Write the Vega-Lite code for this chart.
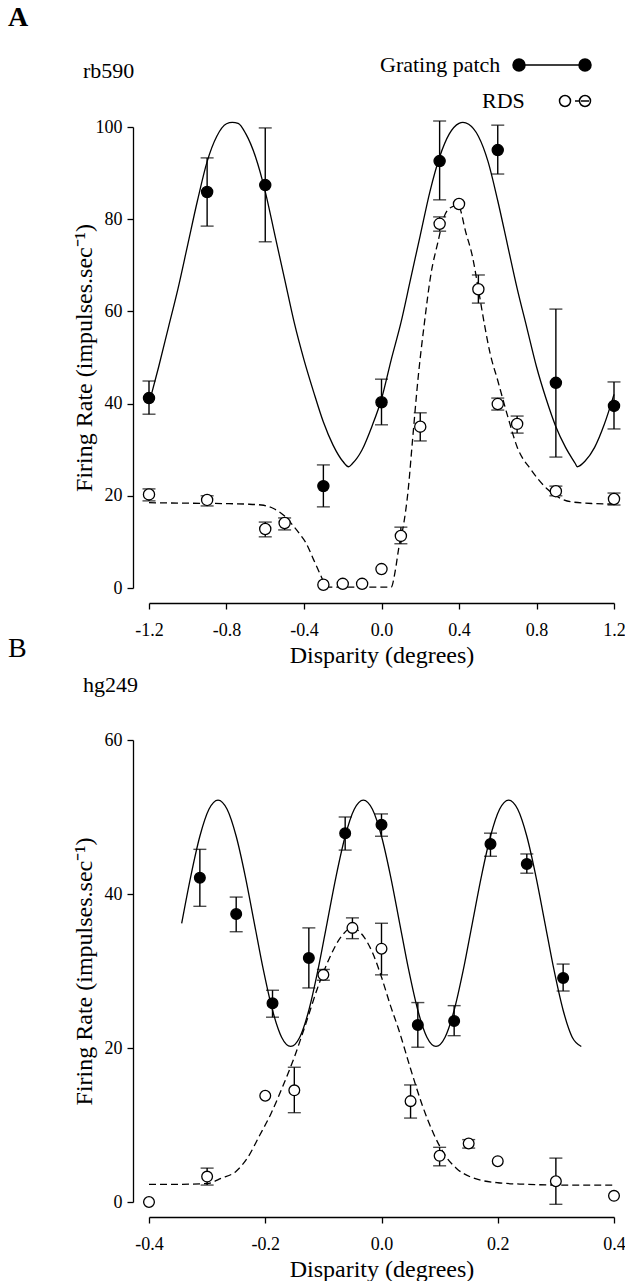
{
  "$schema": "https://vega.github.io/schema/vega-lite/v6.json",
  "background": "white",
  "padding": {"left": 8, "top": 4, "right": 0, "bottom": 0},
  "spacing": -32,
  "resolve": {"scale": {"fill": "independent", "stroke": "independent"}, "legend": {"fill": "independent", "stroke": "independent"}},
  "datasets": {
    "curvesA": [
      {"x": -1.2, "y": 40, "series": "Grating patch"},
      {"x": -1.15, "y": 48, "series": "Grating patch"},
      {"x": -1.1, "y": 56.5, "series": "Grating patch"},
      {"x": -1.05, "y": 65, "series": "Grating patch"},
      {"x": -1.0, "y": 74.5, "series": "Grating patch"},
      {"x": -0.95, "y": 84, "series": "Grating patch"},
      {"x": -0.9, "y": 92.5, "series": "Grating patch"},
      {"x": -0.85, "y": 98, "series": "Grating patch"},
      {"x": -0.8, "y": 100.7, "series": "Grating patch"},
      {"x": -0.77, "y": 101, "series": "Grating patch"},
      {"x": -0.74, "y": 100.8, "series": "Grating patch"},
      {"x": -0.7, "y": 98.5, "series": "Grating patch"},
      {"x": -0.65, "y": 93.5, "series": "Grating patch"},
      {"x": -0.6, "y": 86, "series": "Grating patch"},
      {"x": -0.55, "y": 76.5, "series": "Grating patch"},
      {"x": -0.5, "y": 67, "series": "Grating patch"},
      {"x": -0.45, "y": 57.5, "series": "Grating patch"},
      {"x": -0.4, "y": 49.5, "series": "Grating patch"},
      {"x": -0.35, "y": 42.5, "series": "Grating patch"},
      {"x": -0.3, "y": 36, "series": "Grating patch"},
      {"x": -0.25, "y": 31, "series": "Grating patch"},
      {"x": -0.2, "y": 27.5, "series": "Grating patch"},
      {"x": -0.17, "y": 26.3, "series": "Grating patch"},
      {"x": -0.15, "y": 27, "series": "Grating patch"},
      {"x": -0.1, "y": 30, "series": "Grating patch"},
      {"x": -0.05, "y": 35, "series": "Grating patch"},
      {"x": 0.0, "y": 41, "series": "Grating patch"},
      {"x": 0.05, "y": 49.5, "series": "Grating patch"},
      {"x": 0.1, "y": 57.5, "series": "Grating patch"},
      {"x": 0.15, "y": 67, "series": "Grating patch"},
      {"x": 0.2, "y": 76.5, "series": "Grating patch"},
      {"x": 0.25, "y": 86, "series": "Grating patch"},
      {"x": 0.3, "y": 93.5, "series": "Grating patch"},
      {"x": 0.35, "y": 98.5, "series": "Grating patch"},
      {"x": 0.4, "y": 100.8, "series": "Grating patch"},
      {"x": 0.42, "y": 101, "series": "Grating patch"},
      {"x": 0.45, "y": 100.6, "series": "Grating patch"},
      {"x": 0.5, "y": 98, "series": "Grating patch"},
      {"x": 0.55, "y": 92.5, "series": "Grating patch"},
      {"x": 0.6, "y": 84, "series": "Grating patch"},
      {"x": 0.65, "y": 74.5, "series": "Grating patch"},
      {"x": 0.7, "y": 65, "series": "Grating patch"},
      {"x": 0.75, "y": 56.5, "series": "Grating patch"},
      {"x": 0.8, "y": 48, "series": "Grating patch"},
      {"x": 0.85, "y": 41, "series": "Grating patch"},
      {"x": 0.9, "y": 35, "series": "Grating patch"},
      {"x": 0.95, "y": 30.5, "series": "Grating patch"},
      {"x": 1.0, "y": 27, "series": "Grating patch"},
      {"x": 1.01, "y": 26.3, "series": "Grating patch"},
      {"x": 1.05, "y": 27.5, "series": "Grating patch"},
      {"x": 1.1, "y": 30.5, "series": "Grating patch"},
      {"x": 1.15, "y": 35.5, "series": "Grating patch"},
      {"x": 1.2, "y": 42, "series": "Grating patch"},
      {"x": -1.2, "y": 18.5, "series": "RDS"},
      {"x": -1.0, "y": 18.4, "series": "RDS"},
      {"x": -0.8, "y": 18.3, "series": "RDS"},
      {"x": -0.7, "y": 18.2, "series": "RDS"},
      {"x": -0.62, "y": 18.0, "series": "RDS"},
      {"x": -0.56, "y": 17.3, "series": "RDS"},
      {"x": -0.5, "y": 15.6, "series": "RDS"},
      {"x": -0.45, "y": 13.2, "series": "RDS"},
      {"x": -0.42, "y": 11.6, "series": "RDS"},
      {"x": -0.39, "y": 9.8, "series": "RDS"},
      {"x": -0.35, "y": 6.1, "series": "RDS"},
      {"x": -0.31, "y": 2.4, "series": "RDS"},
      {"x": -0.29, "y": 0.6, "series": "RDS"},
      {"x": -0.27, "y": 0.2, "series": "RDS"},
      {"x": 0.05, "y": 0.2, "series": "RDS"},
      {"x": 0.07, "y": 3.5, "series": "RDS"},
      {"x": 0.09, "y": 8.9, "series": "RDS"},
      {"x": 0.115, "y": 14, "series": "RDS"},
      {"x": 0.137, "y": 21, "series": "RDS"},
      {"x": 0.16, "y": 32, "series": "RDS"},
      {"x": 0.19, "y": 46, "series": "RDS"},
      {"x": 0.22, "y": 57, "series": "RDS"},
      {"x": 0.256, "y": 68.3, "series": "RDS"},
      {"x": 0.29, "y": 74.8, "series": "RDS"},
      {"x": 0.323, "y": 80.5, "series": "RDS"},
      {"x": 0.36, "y": 82.6, "series": "RDS"},
      {"x": 0.395, "y": 83, "series": "RDS"},
      {"x": 0.436, "y": 77, "series": "RDS"},
      {"x": 0.47, "y": 71.8, "series": "RDS"},
      {"x": 0.498, "y": 65.3, "series": "RDS"},
      {"x": 0.53, "y": 57.5, "series": "RDS"},
      {"x": 0.56, "y": 51, "series": "RDS"},
      {"x": 0.6, "y": 45, "series": "RDS"},
      {"x": 0.653, "y": 37, "series": "RDS"},
      {"x": 0.7, "y": 30.6, "series": "RDS"},
      {"x": 0.773, "y": 25.6, "series": "RDS"},
      {"x": 0.86, "y": 21.3, "series": "RDS"},
      {"x": 0.978, "y": 18.7, "series": "RDS"},
      {"x": 1.1, "y": 18.3, "series": "RDS"},
      {"x": 1.2, "y": 18.2, "series": "RDS"}
    ],
    "pointsA": [
      {"x": -1.2, "y": 41.2, "lo": 37.7, "hi": 44.9, "series": "Grating patch"},
      {"x": -0.9, "y": 85.9, "lo": 78.5, "hi": 93.3, "series": "Grating patch"},
      {"x": -0.6, "y": 87.4, "lo": 75.1, "hi": 99.8, "series": "Grating patch"},
      {"x": -0.3, "y": 22.1, "lo": 17.6, "hi": 26.7, "series": "Grating patch"},
      {"x": 0.0, "y": 40.3, "lo": 35.4, "hi": 45.3, "series": "Grating patch"},
      {"x": 0.3, "y": 92.6, "lo": 84.2, "hi": 101.3, "series": "Grating patch"},
      {"x": 0.6, "y": 95.0, "lo": 89.8, "hi": 100.4, "series": "Grating patch"},
      {"x": 0.9, "y": 44.5, "lo": 28.4, "hi": 60.5, "series": "Grating patch"},
      {"x": 1.2, "y": 39.5, "lo": 34.5, "hi": 44.7, "series": "Grating patch"},
      {"x": -1.2, "y": 20.3, "lo": 18.9, "hi": 21.5, "series": "RDS"},
      {"x": -0.9, "y": 19.1, "lo": 17.8, "hi": 20.0, "series": "RDS"},
      {"x": -0.6, "y": 12.8, "lo": 11.1, "hi": 14.3, "series": "RDS"},
      {"x": -0.5, "y": 14.1, "lo": 12.6, "hi": 15.2, "series": "RDS"},
      {"x": -0.3, "y": 0.7, "lo": null, "hi": null, "series": "RDS"},
      {"x": -0.2, "y": 0.9, "lo": null, "hi": null, "series": "RDS"},
      {"x": -0.1, "y": 0.9, "lo": null, "hi": null, "series": "RDS"},
      {"x": 0.0, "y": 4.1, "lo": null, "hi": null, "series": "RDS"},
      {"x": 0.1, "y": 11.3, "lo": 9.6, "hi": 13.2, "series": "RDS"},
      {"x": 0.2, "y": 35.0, "lo": 31.9, "hi": 38.0, "series": "RDS"},
      {"x": 0.3, "y": 79.0, "lo": 77.4, "hi": 80.5, "series": "RDS"},
      {"x": 0.4, "y": 83.3, "lo": null, "hi": null, "series": "RDS"},
      {"x": 0.5, "y": 64.8, "lo": 61.8, "hi": 67.9, "series": "RDS"},
      {"x": 0.6, "y": 39.9, "lo": 38.6, "hi": 41.2, "series": "RDS"},
      {"x": 0.7, "y": 35.6, "lo": 33.6, "hi": 37.3, "series": "RDS"},
      {"x": 0.9, "y": 21.0, "lo": 20.0, "hi": 22.1, "series": "RDS"},
      {"x": 1.2, "y": 19.3, "lo": 18.0, "hi": 20.6, "series": "RDS"}
    ],
    "curvesB": [
      {"x": -0.34375, "y": 36.2, "series": "Grating patch"},
      {"x": -0.328125, "y": 42.3, "series": "Grating patch"},
      {"x": -0.3125, "y": 47.5, "series": "Grating patch"},
      {"x": -0.296875, "y": 51.0, "series": "Grating patch"},
      {"x": -0.28125, "y": 52.2, "series": "Grating patch"},
      {"x": -0.265625, "y": 51.0, "series": "Grating patch"},
      {"x": -0.25, "y": 47.5, "series": "Grating patch"},
      {"x": -0.234375, "y": 42.3, "series": "Grating patch"},
      {"x": -0.21875, "y": 36.2, "series": "Grating patch"},
      {"x": -0.203125, "y": 30.1, "series": "Grating patch"},
      {"x": -0.1875, "y": 24.9, "series": "Grating patch"},
      {"x": -0.171875, "y": 21.4, "series": "Grating patch"},
      {"x": -0.15625, "y": 20.2, "series": "Grating patch"},
      {"x": -0.140625, "y": 21.4, "series": "Grating patch"},
      {"x": -0.125, "y": 24.9, "series": "Grating patch"},
      {"x": -0.109375, "y": 30.1, "series": "Grating patch"},
      {"x": -0.09375, "y": 36.2, "series": "Grating patch"},
      {"x": -0.078125, "y": 42.3, "series": "Grating patch"},
      {"x": -0.0625, "y": 47.5, "series": "Grating patch"},
      {"x": -0.046875, "y": 51.0, "series": "Grating patch"},
      {"x": -0.03125, "y": 52.2, "series": "Grating patch"},
      {"x": -0.015625, "y": 51.0, "series": "Grating patch"},
      {"x": 0.0, "y": 47.5, "series": "Grating patch"},
      {"x": 0.015625, "y": 42.3, "series": "Grating patch"},
      {"x": 0.03125, "y": 36.2, "series": "Grating patch"},
      {"x": 0.046875, "y": 30.1, "series": "Grating patch"},
      {"x": 0.0625, "y": 24.9, "series": "Grating patch"},
      {"x": 0.078125, "y": 21.4, "series": "Grating patch"},
      {"x": 0.09375, "y": 20.2, "series": "Grating patch"},
      {"x": 0.109375, "y": 21.4, "series": "Grating patch"},
      {"x": 0.125, "y": 24.9, "series": "Grating patch"},
      {"x": 0.140625, "y": 30.1, "series": "Grating patch"},
      {"x": 0.15625, "y": 36.2, "series": "Grating patch"},
      {"x": 0.171875, "y": 42.3, "series": "Grating patch"},
      {"x": 0.1875, "y": 47.5, "series": "Grating patch"},
      {"x": 0.203125, "y": 51.0, "series": "Grating patch"},
      {"x": 0.21875, "y": 52.2, "series": "Grating patch"},
      {"x": 0.234375, "y": 51.0, "series": "Grating patch"},
      {"x": 0.25, "y": 47.5, "series": "Grating patch"},
      {"x": 0.265625, "y": 42.3, "series": "Grating patch"},
      {"x": 0.28125, "y": 36.2, "series": "Grating patch"},
      {"x": 0.296875, "y": 30.1, "series": "Grating patch"},
      {"x": 0.3125, "y": 24.9, "series": "Grating patch"},
      {"x": 0.328125, "y": 21.4, "series": "Grating patch"},
      {"x": 0.34375, "y": 20.2, "series": "Grating patch"},
      {"x": -0.4, "y": 2.3, "series": "RDS"},
      {"x": -0.35, "y": 2.3, "series": "RDS"},
      {"x": -0.3, "y": 2.4, "series": "RDS"},
      {"x": -0.275, "y": 3.1, "series": "RDS"},
      {"x": -0.25, "y": 4.0, "series": "RDS"},
      {"x": -0.23, "y": 5.8, "series": "RDS"},
      {"x": -0.21, "y": 8.6, "series": "RDS"},
      {"x": -0.19, "y": 11.5, "series": "RDS"},
      {"x": -0.17, "y": 15.0, "series": "RDS"},
      {"x": -0.15, "y": 18.8, "series": "RDS"},
      {"x": -0.13, "y": 23.2, "series": "RDS"},
      {"x": -0.11, "y": 27.8, "series": "RDS"},
      {"x": -0.09, "y": 31.6, "series": "RDS"},
      {"x": -0.07, "y": 34.4, "series": "RDS"},
      {"x": -0.05, "y": 35.6, "series": "RDS"},
      {"x": -0.03, "y": 34.4, "series": "RDS"},
      {"x": -0.015, "y": 32.3, "series": "RDS"},
      {"x": 0.0, "y": 29.2, "series": "RDS"},
      {"x": 0.015, "y": 25.6, "series": "RDS"},
      {"x": 0.03, "y": 22.3, "series": "RDS"},
      {"x": 0.05, "y": 17.3, "series": "RDS"},
      {"x": 0.07, "y": 12.6, "series": "RDS"},
      {"x": 0.09, "y": 8.8, "series": "RDS"},
      {"x": 0.11, "y": 6.0, "series": "RDS"},
      {"x": 0.13, "y": 4.3, "series": "RDS"},
      {"x": 0.155, "y": 3.2, "series": "RDS"},
      {"x": 0.2, "y": 2.5, "series": "RDS"},
      {"x": 0.25, "y": 2.3, "series": "RDS"},
      {"x": 0.3, "y": 2.2, "series": "RDS"},
      {"x": 0.4, "y": 2.2, "series": "RDS"}
    ],
    "pointsB": [
      {"x": -0.3125, "y": 42.1, "lo": 38.4, "hi": 45.8, "series": "Grating patch"},
      {"x": -0.25, "y": 37.4, "lo": 35.1, "hi": 39.6, "series": "Grating patch"},
      {"x": -0.1875, "y": 25.8, "lo": 24.0, "hi": 27.5, "series": "Grating patch"},
      {"x": -0.125, "y": 31.7, "lo": 27.8, "hi": 35.6, "series": "Grating patch"},
      {"x": -0.0625, "y": 47.9, "lo": 45.7, "hi": 50.0, "series": "Grating patch"},
      {"x": 0.0, "y": 49.0, "lo": 47.5, "hi": 50.4, "series": "Grating patch"},
      {"x": 0.0625, "y": 23.0, "lo": 20.1, "hi": 25.9, "series": "Grating patch"},
      {"x": 0.125, "y": 23.5, "lo": 21.6, "hi": 25.5, "series": "Grating patch"},
      {"x": 0.1875, "y": 46.5, "lo": 44.9, "hi": 47.9, "series": "Grating patch"},
      {"x": 0.25, "y": 43.9, "lo": 42.7, "hi": 45.2, "series": "Grating patch"},
      {"x": 0.3125, "y": 29.1, "lo": 27.4, "hi": 30.9, "series": "Grating patch"},
      {"x": -0.4, "y": 0.0, "lo": null, "hi": null, "series": "RDS"},
      {"x": -0.3, "y": 3.3, "lo": 2.2, "hi": 4.4, "series": "RDS"},
      {"x": -0.2, "y": 13.8, "lo": null, "hi": null, "series": "RDS"},
      {"x": -0.15, "y": 14.5, "lo": 11.6, "hi": 17.5, "series": "RDS"},
      {"x": -0.1, "y": 29.5, "lo": 28.8, "hi": 30.2, "series": "RDS"},
      {"x": -0.05, "y": 35.6, "lo": 34.2, "hi": 36.9, "series": "RDS"},
      {"x": 0.0, "y": 32.9, "lo": 29.5, "hi": 36.2, "series": "RDS"},
      {"x": 0.05, "y": 13.1, "lo": 10.9, "hi": 15.2, "series": "RDS"},
      {"x": 0.1, "y": 6.0, "lo": 4.7, "hi": 7.1, "series": "RDS"},
      {"x": 0.15, "y": 7.6, "lo": 7.0, "hi": 8.1, "series": "RDS"},
      {"x": 0.2, "y": 5.3, "lo": null, "hi": null, "series": "RDS"},
      {"x": 0.3, "y": 2.7, "lo": -0.3, "hi": 5.7, "series": "RDS"},
      {"x": 0.4, "y": 0.8, "lo": null, "hi": null, "series": "RDS"}
    ]
  },
  "vconcat": [
    {
      "title": {"text": "A", "anchor": "start", "frame": "bounds", "fontSize": 28, "fontWeight": "bold", "offset": 22, "dx": -64},
      "resolve": {"scale": {"fill": "independent", "stroke": "independent"}, "legend": {"fill": "independent", "stroke": "independent"}},
      "vconcat": [
        {
          "width": 465,
          "height": 461,
          "title": {"text": "rb590", "anchor": "start", "frame": "group", "dx": -66, "offset": -29, "fontSize": 22, "fontWeight": "normal"},
          "encoding": {
            "x": {"field": "x", "type": "quantitative", "scale": {"domain": [-1.2, 1.2], "nice": false, "zero": false},
              "axis": {"values": [-1.2, -0.8, -0.4, 0, 0.4, 0.8, 1.2], "labelExpr": "(datum.value < 0 ? '-' : '') + format(abs(datum.value), '.1f')", "offset": 15, "title": "Disparity (degrees)", "labelPadding": 12, "titlePadding": 4}},
            "y": {"field": "y", "type": "quantitative", "scale": {"domain": [0, 100], "nice": false},
              "axis": {"values": [0, 20, 40, 60, 80, 100], "format": "d", "offset": 16, "title": "Firing Rate (impulses.sec⁻¹)", "labelPadding": 5, "minExtent": 37, "maxExtent": 37, "titlePadding": 0}}
          },
          "layer": [
            {"data": {"name": "curvesA"}, "transform": [{"filter": "datum.series === 'Grating patch'"}], "mark": {"type": "line", "color": "black", "strokeWidth": 1.3, "interpolate": "monotone", "clip": false}, "encoding": {}},
            {"data": {"name": "curvesA"}, "transform": [{"filter": "datum.series === 'RDS'"}], "mark": {"type": "line", "color": "black", "strokeWidth": 1.3, "interpolate": "monotone", "strokeDash": [7, 4], "clip": false}, "encoding": {}},
            {"data": {"name": "pointsA"}, "transform": [{"filter": "datum.lo != null"}], "mark": {"type": "rule", "color": "black", "strokeWidth": 1.4},
              "encoding": {"y": {"field": "lo", "type": "quantitative"}, "y2": {"field": "hi"}}},
            {"data": {"name": "pointsA"}, "transform": [{"filter": "datum.lo != null"}], "mark": {"type": "tick", "orient": "horizontal", "color": "black", "size": 13, "thickness": 1.4},
              "encoding": {"y": {"field": "lo", "type": "quantitative"}}},
            {"data": {"name": "pointsA"}, "transform": [{"filter": "datum.lo != null"}], "mark": {"type": "tick", "orient": "horizontal", "color": "black", "size": 13, "thickness": 1.4},
              "encoding": {"y": {"field": "hi", "type": "quantitative"}}},
            {"data": {"name": "pointsA"}, "mark": {"type": "point", "shape": "circle", "filled": true, "size": 125, "stroke": "black", "strokeWidth": 1.3, "opacity": 1, "fillOpacity": 1},
              "encoding": {
                "fill": {"field": "series", "type": "nominal", "scale": {"domain": ["Grating patch", "RDS"], "range": ["black", "white"]},
                  "legend": {"title": null, "values": ["Grating patch"], "orient": "none", "legendX": 209, "legendY": -73, "padding": 0, "labelFont": "Liberation Serif", "labelFontSize": 22, "labelColor": "black", "labelOffset": 0, "symbolSize": 4, "symbolStrokeColor": "black", "symbolStrokeWidth": 1.5,
                    "symbolType": "M-2,0 M150,0 L216,0 M144,0 A6,6 0 1,1 156,0 A6,6 0 1,1 144,0 Z M210,0 A6,6 0 1,1 222,0 A6,6 0 1,1 210,0 Z"}},
                "stroke": {"field": "series", "type": "nominal", "scale": {"domain": ["RDS", "Grating patch"], "range": ["black", "black"]},
                  "legend": {"title": null, "values": ["RDS"], "orient": "none", "legendX": 311, "legendY": -37, "padding": 0, "labelFont": "Liberation Serif", "labelFontSize": 22, "labelColor": "black", "labelOffset": 0, "symbolSize": 4, "symbolFillColor": "white", "symbolStrokeColor": "black", "symbolStrokeWidth": 1.5,
                    "symbolType": "M-2,0 M88.5,0 A5.5,5.5 0 1,1 99.5,0 A5.5,5.5 0 1,1 88.5,0 Z M104,0 L108,0 M108.5,0 A5.5,5.5 0 1,1 119.5,0 A5.5,5.5 0 1,1 108.5,0 Z M110,0 L118,0"}}
              }}
          ]
        }
      ]
    },
    {
      "title": {"text": "B", "anchor": "start", "frame": "bounds", "fontSize": 28, "fontWeight": "normal", "offset": 11, "dx": -64},
      "vconcat": [
        {
          "width": 465,
          "height": 462,
          "title": {"text": "hg249", "anchor": "start", "frame": "group", "dx": -66, "offset": 34, "fontSize": 22, "fontWeight": "normal"},
          "encoding": {
            "x": {"field": "x", "type": "quantitative", "scale": {"domain": [-0.4, 0.4], "nice": false, "zero": false},
              "axis": {"values": [-0.4, -0.2, 0, 0.2, 0.4], "labelExpr": "(datum.value < 0 ? '-' : '') + format(abs(datum.value), '.1f')", "offset": 15, "title": "Disparity (degrees)", "labelPadding": 12, "titlePadding": 4}},
            "y": {"field": "y", "type": "quantitative", "scale": {"domain": [0, 60], "nice": false},
              "axis": {"values": [0, 20, 40, 60], "format": "d", "offset": 16, "title": "Firing Rate (impulses.sec⁻¹)", "labelPadding": 5, "minExtent": 37, "maxExtent": 37, "titlePadding": 0}}
          },
          "layer": [
            {"data": {"name": "curvesB"}, "transform": [{"filter": "datum.series === 'Grating patch'"}], "mark": {"type": "line", "color": "black", "strokeWidth": 1.3, "interpolate": "monotone", "clip": false}, "encoding": {}},
            {"data": {"name": "curvesB"}, "transform": [{"filter": "datum.series === 'RDS'"}], "mark": {"type": "line", "color": "black", "strokeWidth": 1.3, "interpolate": "monotone", "strokeDash": [7, 4], "clip": false}, "encoding": {}},
            {"data": {"name": "pointsB"}, "transform": [{"filter": "datum.lo != null"}], "mark": {"type": "rule", "color": "black", "strokeWidth": 1.4},
              "encoding": {"y": {"field": "lo", "type": "quantitative"}, "y2": {"field": "hi"}}},
            {"data": {"name": "pointsB"}, "transform": [{"filter": "datum.lo != null"}], "mark": {"type": "tick", "orient": "horizontal", "color": "black", "size": 13, "thickness": 1.4},
              "encoding": {"y": {"field": "lo", "type": "quantitative"}}},
            {"data": {"name": "pointsB"}, "transform": [{"filter": "datum.lo != null"}], "mark": {"type": "tick", "orient": "horizontal", "color": "black", "size": 13, "thickness": 1.4},
              "encoding": {"y": {"field": "hi", "type": "quantitative"}}},
            {"data": {"name": "pointsB"}, "mark": {"type": "point", "shape": "circle", "filled": true, "size": 115, "stroke": "black", "strokeWidth": 1.3, "opacity": 1, "fillOpacity": 1},
              "encoding": {"fill": {"field": "series", "type": "nominal", "scale": {"domain": ["Grating patch", "RDS"], "range": ["black", "white"]}, "legend": null}}}
          ]
        }
      ]
    }
  ],
  "config": {
    "view": {"stroke": null},
    "font": "Liberation Serif",
    "axis": {"grid": false, "domainColor": "black", "domainWidth": 1.3, "tickColor": "black", "tickWidth": 1.3, "tickSize": 6, "labelFont": "Liberation Serif", "labelFontSize": 18, "labelColor": "black", "titleFont": "Liberation Serif", "titleFontSize": 24, "titleFontWeight": "normal", "titleColor": "black", "labelFlush": false, "labelOverlap": false, "labelBound": false},
    "title": {"font": "Liberation Serif", "color": "black", "fontWeight": "normal"}
  }
}
